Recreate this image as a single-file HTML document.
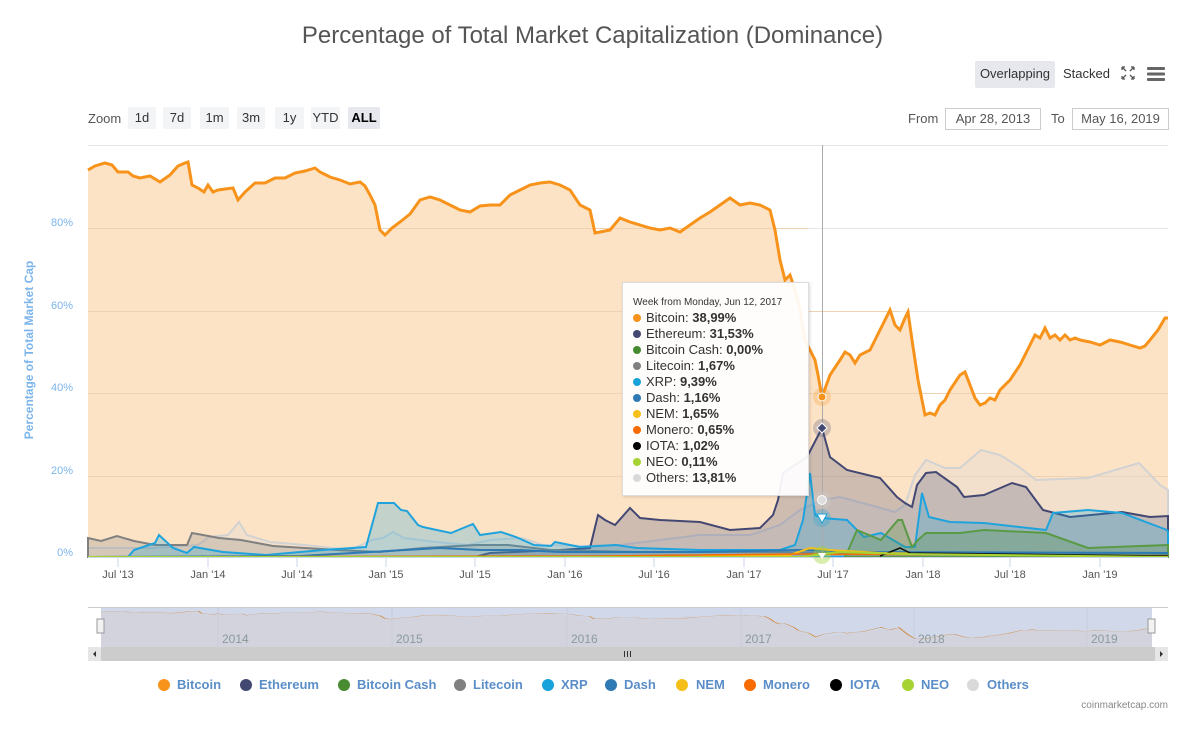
<!DOCTYPE html>
<html><head><meta charset="utf-8"><style>
body{margin:0;background:#fff;font-family:"Liberation Sans",sans-serif;}
.wrap{position:relative;width:1201px;height:736px;overflow:hidden;}
.t{position:absolute;white-space:nowrap;}
.btn{position:absolute;top:107px;height:22px;line-height:22px;background:#f3f4f6;font-size:13px;color:#333;text-align:center;border-radius:2px;}
.inp{position:absolute;top:108px;height:20px;line-height:20px;border:1px solid #ccc;font-size:13px;color:#555;text-align:center;}
.leg{position:absolute;top:677px;font-size:13px;font-weight:bold;color:#5b8ec8;}
.dot{position:absolute;top:679px;width:12px;height:12px;border-radius:50%;}
.tip{position:absolute;left:622px;top:282px;width:185px;height:212px;background:rgba(255,255,255,0.93);border:1px solid #ddd;box-shadow:1px 1px 3px rgba(0,0,0,0.15);font-size:13px;color:#333;}
.tip div{height:16px;line-height:16px;padding-left:10px;}
.tip i{display:inline-block;width:8px;height:8px;border-radius:50%;margin-right:5px;vertical-align:0;}
</style></head><body><div class="wrap">
<div class="t" style="left:0;width:1185px;text-align:center;top:22px;font-size:24px;color:#555;">Percentage of Total Market Capitalization (Dominance)</div>
<div class="t" style="left:975px;top:61px;width:80px;height:27px;line-height:25px;background:#e6e8ee;border-radius:2px;text-align:center;font-size:13px;color:#333;">Overlapping</div>
<div class="t" style="left:1063px;top:66px;font-size:13px;color:#333;">Stacked</div>
<svg class="t" style="left:1120px;top:65px" width="50" height="18"><g stroke="#555" stroke-width="1.3" fill="none"><path d="M2 2l4 4M2 2h3M2 2v3M14 2l-4 4M14 2h-3M14 2v3M2 14l4-4M2 14h3M2 14v-3M14 14l-4-4M14 14h-3M14 14v-3"/></g><g fill="#666"><rect x="27" y="2" width="18" height="3" rx="1"/><rect x="27" y="7.5" width="18" height="3" rx="1"/><rect x="27" y="13" width="18" height="3" rx="1"/></g></svg>
<div class="t" style="left:88px;top:111px;font-size:13px;color:#555;">Zoom</div>
<div class="btn" style="left:128px;width:28px">1d</div>
<div class="btn" style="left:163px;width:28px">7d</div>
<div class="btn" style="left:200px;width:29px">1m</div>
<div class="btn" style="left:237px;width:28px">3m</div>
<div class="btn" style="left:275px;width:29px">1y</div>
<div class="btn" style="left:311px;width:29px">YTD</div>
<div class="btn" style="left:348px;width:32px;background:#e6e8ee;font-weight:bold;color:#000">ALL</div>
<div class="t" style="left:908px;top:111px;font-size:13px;color:#555;">From</div>
<div class="inp" style="left:945px;width:94px">Apr 28, 2013</div>
<div class="t" style="left:1051px;top:111px;font-size:13px;color:#555;">To</div>
<div class="inp" style="left:1072px;width:95px">May 16, 2019</div>

<svg class="t" style="left:0;top:0" width="1201" height="736">
<defs>
<path id="btc" d="M88,170 L95,166 L105,163 L112,165 L118,172 L128,172 L133,176 L140,178 L150,176 L160,182 L170,175 L178,166 L185,163 L188,162 L192,185 L198,188 L204,192 L208,185 L213,192 L218,190 L225,189 L233,188 L238,200 L245,192 L255,183 L265,183 L275,178 L285,178 L295,173 L305,171 L315,168 L320,172 L330,177 L340,180 L350,184 L360,182 L365,186 L370,195 L375,205 L380,230 L385,235 L392,228 L400,222 L410,214 L420,200 L430,197 L440,200 L450,205 L460,210 L470,212 L480,206 L490,205 L500,205 L510,195 L520,190 L530,185 L540,183 L550,182 L560,185 L570,190 L580,205 L590,210 L595,233 L600,232 L610,230 L620,218 L630,222 L640,225 L650,228 L660,230 L670,228 L680,232 L690,225 L700,218 L710,212 L720,205 L730,198 L740,205 L750,203 L760,205 L770,210 L775,230 L780,260 L785,280 L790,275 L795,290 L800,310 L805,340 L810,350 L815,360 L818,375 L822,397 L830,375 L840,360 L845,352 L850,355 L855,363 L860,355 L870,350 L880,330 L885,320 L890,310 L895,325 L900,330 L905,318 L908,312 L912,340 L918,380 L925,415 L930,413 L935,415 L940,405 L945,400 L950,390 L960,375 L965,372 L970,385 L975,398 L980,405 L985,403 L990,398 L995,400 L1000,390 L1010,380 L1020,365 L1025,355 L1030,345 L1035,335 L1040,338 L1045,328 L1050,338 L1055,335 L1060,340 L1065,335 L1070,340 L1075,338 L1080,340 L1090,342 L1100,345 L1110,340 L1120,342 L1130,345 L1140,348 L1145,346 L1150,340 L1158,330 L1165,318 L1168,318"/>
</defs>
<g stroke="#e6e6e6" stroke-width="1"><line x1="88" y1="145.5" x2="1168" y2="145.5"/></g>
<path d="M88,557 L88,170 L95,166 L105,163 L112,165 L118,172 L128,172 L133,176 L140,178 L150,176 L160,182 L170,175 L178,166 L185,163 L188,162 L192,185 L198,188 L204,192 L208,185 L213,192 L218,190 L225,189 L233,188 L238,200 L245,192 L255,183 L265,183 L275,178 L285,178 L295,173 L305,171 L315,168 L320,172 L330,177 L340,180 L350,184 L360,182 L365,186 L370,195 L375,205 L380,230 L385,235 L392,228 L400,222 L410,214 L420,200 L430,197 L440,200 L450,205 L460,210 L470,212 L480,206 L490,205 L500,205 L510,195 L520,190 L530,185 L540,183 L550,182 L560,185 L570,190 L580,205 L590,210 L595,233 L600,232 L610,230 L620,218 L630,222 L640,225 L650,228 L660,230 L670,228 L680,232 L690,225 L700,218 L710,212 L720,205 L730,198 L740,205 L750,203 L760,205 L770,210 L775,230 L780,260 L785,280 L790,275 L795,290 L800,310 L805,340 L810,350 L815,360 L818,375 L822,397 L830,375 L840,360 L845,352 L850,355 L855,363 L860,355 L870,350 L880,330 L885,320 L890,310 L895,325 L900,330 L905,318 L908,312 L912,340 L918,380 L925,415 L930,413 L935,415 L940,405 L945,400 L950,390 L960,375 L965,372 L970,385 L975,398 L980,405 L985,403 L990,398 L995,400 L1000,390 L1010,380 L1020,365 L1025,355 L1030,345 L1035,335 L1040,338 L1045,328 L1050,338 L1055,335 L1060,340 L1065,335 L1070,340 L1075,338 L1080,340 L1090,342 L1100,345 L1110,340 L1120,342 L1130,345 L1140,348 L1145,346 L1150,340 L1158,330 L1165,318 L1168,318 L1168,557 Z" fill="#fde3c6"/>
<g stroke="#efd2b3" stroke-width="1"><line x1="88" y1="228.5" x2="1168" y2="228.5"/><line x1="88" y1="311.5" x2="1168" y2="311.5"/><line x1="88" y1="393.5" x2="1168" y2="393.5"/><line x1="88" y1="476.5" x2="1168" y2="476.5"/></g>
<g stroke="#e6e6e6"><line x1="808" y1="228.5" x2="1168" y2="228.5"/><line x1="900" y1="311.5" x2="1168" y2="311.5"/></g>
<!-- others -->
<path d="M88,557 L88,548 L155,548 L198,545 L209,537 L228,535 L239,522 L247,535 L270,542 L305,545 L350,550 L372,540 L383,538 L393,532 L404,538 L436,542 L468,545 L490,540 L522,538 L543,545 L585,546 L620,545 L660,540 L700,535 L750,535 L780,525 L800,510 L822,500 L840,497 L870,505 L895,512 L905,505 L915,475 L926,460 L945,468 L960,468 L981,450 L1000,455 L1019,467 L1036,480 L1088,478 L1139,463 L1160,485 L1168,490 L1168,557Z" fill="#d9d9d9" fill-opacity="0.3" stroke="#d2d2d2" stroke-width="2"/>
<!-- ethereum -->
<path d="M475,557 L490,553 L560,550 L590,548 L598,515 L605,520 L615,525 L630,508 L640,518 L660,520 L700,522 L730,530 L760,528 L773,515 L778,500 L783,473 L795,465 L807,457 L822,428 L830,457 L847,470 L880,478 L897,497 L905,503 L912,507 L917,485 L926,473 L936,472 L957,487 L964,497 L984,495 L1012,483 L1026,487 L1043,510 L1070,517 L1122,512 L1150,517 L1168,516 L1168,557Z" fill="#434873" fill-opacity="0.25" stroke="#434873" stroke-width="2"/>
<!-- litecoin -->
<path d="M88,557 L88,538 L101,541 L117,536 L134,541 L155,545 L187,545 L192,533 L203,535 L219,538 L241,540 L273,546 L305,548 L337,550 L380,552 L423,548 L476,545 L508,545 L551,550 L637,552 L700,552 L780,552 L820,553 L900,553 L1000,554 L1168,554 L1168,557Z" fill="#808080" fill-opacity="0.25" stroke="#808080" stroke-width="2"/>
<!-- xrp -->
<path d="M88,557 L128,557 L134,550 L155,543 L159,535 L173,548 L187,553 L194,547 L223,552 L266,555 L323,550 L366,547 L378,503 L394,503 L401,510 L407,511 L418,525 L423,527 L432,529 L451,533 L473,524 L480,535 L501,532 L516,537 L534,545 L551,546 L555,542 L580,547 L616,545 L637,548 L700,550 L780,550 L795,545 L803,520 L810,473 L815,515 L822,518 L847,520 L864,537 L881,533 L905,547 L915,547 L922,493 L929,517 L950,522 L984,523 L1046,530 L1053,513 L1088,510 L1122,513 L1167,530 L1168,532 L1168,557Z" fill="#17a2db" fill-opacity="0.25" stroke="#1fa3dc" stroke-width="2"/>
<!-- bch -->
<path d="M845,557 L847,553 L857,530 L864,533 L881,540 L898,520 L902,520 L912,547 L918,540 L926,533 L960,533 L984,530 L1046,533 L1088,548 L1168,545 L1168,557Z" fill="#478a2f" fill-opacity="0.25" stroke="#5a9a45" stroke-width="2"/>
<path d="M88,557 L300,556 L440,548 L480,550 L520,550 L560,552 L700,552 L800,550 L850,552 L1168,553" fill="none" stroke="#2e7ab5" stroke-width="2"/>
<path d="M700,556 L790,555 L810,548 L830,550 L880,553 L1000,555 L1168,556" fill="none" stroke="#f5bf17" stroke-width="2"/>
<path d="M88,557 L600,556 L800,554 L1168,556" fill="none" stroke="#f86b00" stroke-width="1.5"/>
<path d="M880,556 L900,548 L910,553 L1000,554 L1168,556" fill="none" stroke="#111" stroke-width="1.5"/>
<path d="M88,557 L800,557 L840,552 L900,554 L1168,557" fill="none" stroke="#a6d234" stroke-width="2"/>
<use href="#btc" fill="none" stroke="#f7931a" stroke-width="3"/>
<line x1="88" y1="557.5" x2="1168" y2="557.5" stroke="#ccd6eb"/>
<line x1="822.5" y1="145" x2="822.5" y2="557" stroke="#aaa"/>
<circle cx="822" cy="397" r="9" fill="#f7931a" fill-opacity="0.25"/><circle cx="822" cy="397" r="4" fill="#f7931a" stroke="#fff"/>
<circle cx="822" cy="428" r="9" fill="#434873" fill-opacity="0.25"/><path d="M822,423 L827,428 L822,433 L817,428Z" fill="#434873" stroke="#fff"/>
<circle cx="822" cy="500" r="9" fill="#ccc" fill-opacity="0.3"/><circle cx="822" cy="500" r="4.5" fill="#ddd" stroke="#fff"/>
<circle cx="822" cy="518" r="9" fill="#17a2db" fill-opacity="0.25"/><path d="M817,514 L827,514 L822,523Z" fill="#fff" stroke="#17a2db"/>
<circle cx="822" cy="555" r="9" fill="#a6d234" fill-opacity="0.4"/><path d="M818,553 L826,553 L822,559Z" fill="#fff"/>
<g stroke="#ccd6eb"><line x1="118" y1="557" x2="118" y2="567"/><line x1="208" y1="557" x2="208" y2="567"/><line x1="297" y1="557" x2="297" y2="567"/><line x1="386" y1="557" x2="386" y2="567"/><line x1="475" y1="557" x2="475" y2="567"/><line x1="565" y1="557" x2="565" y2="567"/><line x1="654" y1="557" x2="654" y2="567"/><line x1="744" y1="557" x2="744" y2="567"/><line x1="833" y1="557" x2="833" y2="567"/><line x1="923" y1="557" x2="923" y2="567"/><line x1="1010" y1="557" x2="1010" y2="567"/><line x1="1100" y1="557" x2="1100" y2="567"/></g>
<g font-family="Liberation Sans" font-size="11" fill="#555" text-anchor="middle">
<text x="118" y="578">Jul '13</text><text x="208" y="578">Jan '14</text><text x="297" y="578">Jul '14</text><text x="386" y="578">Jan '15</text><text x="475" y="578">Jul '15</text><text x="565" y="578">Jan '16</text><text x="654" y="578">Jul '16</text><text x="744" y="578">Jan '17</text><text x="833" y="578">Jul '17</text><text x="923" y="578">Jan '18</text><text x="1010" y="578">Jul '18</text><text x="1100" y="578">Jan '19</text>
</g>
<g font-family="Liberation Sans" font-size="11" fill="#7cb5ec" text-anchor="end">
<text x="73" y="226">80%</text><text x="73" y="309">60%</text><text x="73" y="391">40%</text><text x="73" y="474">20%</text><text x="73" y="556">0%</text>
</g>
<text transform="translate(33,350) rotate(-90)" text-anchor="middle" font-family="Liberation Sans" font-size="12" font-weight="bold" fill="#7cb5ec">Percentage of Total Market Cap</text>
<rect x="101" y="607" width="1051" height="40" fill="#d0d8ea"/>
<line x1="88" y1="607.5" x2="1168" y2="607.5" stroke="#ccc"/>
<g transform="translate(101,607) scale(0.9731,0.11) translate(-88,-125)">
<path d="M88,557 L88,170 L188,162 L192,185 L238,200 L315,168 L370,195 L385,235 L430,197 L470,212 L550,182 L595,233 L650,228 L730,198 L770,210 L822,397 L908,312 L925,415 L965,372 L985,403 L1045,328 L1140,348 L1168,318 L1168,557Z" fill="#d3d3de"/>
<use href="#btc" fill="none" stroke="#d0883a" stroke-width="1.6" vector-effect="non-scaling-stroke"/>
</g>
<g stroke="#c8ccd8"><line x1="218" y1="607" x2="218" y2="647"/><line x1="392" y1="607" x2="392" y2="647"/><line x1="567" y1="607" x2="567" y2="647"/><line x1="741" y1="607" x2="741" y2="647"/><line x1="914" y1="607" x2="914" y2="647"/><line x1="1087" y1="607" x2="1087" y2="647"/></g>
<g font-family="Liberation Sans" font-size="12" fill="#8a9a9a"><text x="222" y="643">2014</text><text x="396" y="643">2015</text><text x="571" y="643">2016</text><text x="745" y="643">2017</text><text x="918" y="643">2018</text><text x="1091" y="643">2019</text></g>
<rect x="97" y="619" width="7" height="14" fill="#f2f2f2" stroke="#999"/><rect x="1148" y="619" width="7" height="14" fill="#f2f2f2" stroke="#999"/>
<rect x="88" y="647" width="1080" height="14" fill="#cccccc"/>
<rect x="88" y="647" width="13" height="14" fill="#e6e6e6"/><rect x="1155" y="647" width="13" height="14" fill="#e6e6e6"/>
<path d="M96,651 L93,654 L96,657Z" fill="#333"/><path d="M1160,651 L1163,654 L1160,657Z" fill="#333"/>
<g stroke="#333"><line x1="624.5" y1="651" x2="624.5" y2="657"/><line x1="627.5" y1="651" x2="627.5" y2="657"/><line x1="630.5" y1="651" x2="630.5" y2="657"/></g>
</svg>

<div class="tip">
<div style="font-size:10px;padding-top:12px;height:15px;line-height:15px">Week from Monday, Jun 12, 2017</div>
<div><i style="background:#f7931a"></i>Bitcoin: <b>38,99%</b></div>
<div><i style="background:#434873"></i>Ethereum: <b>31,53%</b></div>
<div><i style="background:#478a2f"></i>Bitcoin Cash: <b>0,00%</b></div>
<div><i style="background:#808080"></i>Litecoin: <b>1,67%</b></div>
<div><i style="background:#17a2db"></i>XRP: <b>9,39%</b></div>
<div><i style="background:#2e7ab5"></i>Dash: <b>1,16%</b></div>
<div><i style="background:#f5bf17"></i>NEM: <b>1,65%</b></div>
<div><i style="background:#f86b00"></i>Monero: <b>0,65%</b></div>
<div><i style="background:#000"></i>IOTA: <b>1,02%</b></div>
<div><i style="background:#a6d234"></i>NEO: <b>0,11%</b></div>
<div><i style="background:#d9d9d9"></i>Others: <b>13,81%</b></div>
</div>

<div class="dot" style="left:158px;background:#f7931a"></div><div class="leg" style="left:177px">Bitcoin</div>
<div class="dot" style="left:240px;background:#434873"></div><div class="leg" style="left:259px">Ethereum</div>
<div class="dot" style="left:338px;background:#478a2f"></div><div class="leg" style="left:357px">Bitcoin Cash</div>
<div class="dot" style="left:454px;background:#808080"></div><div class="leg" style="left:473px">Litecoin</div>
<div class="dot" style="left:542px;background:#17a2db"></div><div class="leg" style="left:561px">XRP</div>
<div class="dot" style="left:605px;background:#2e7ab5"></div><div class="leg" style="left:624px">Dash</div>
<div class="dot" style="left:676px;background:#f5bf17"></div><div class="leg" style="left:696px">NEM</div>
<div class="dot" style="left:744px;background:#f86b00"></div><div class="leg" style="left:763px">Monero</div>
<div class="dot" style="left:830px;background:#000"></div><div class="leg" style="left:850px">IOTA</div>
<div class="dot" style="left:902px;background:#a6d234"></div><div class="leg" style="left:921px">NEO</div>
<div class="dot" style="left:967px;background:#d9d9d9"></div><div class="leg" style="left:987px">Others</div>
<div class="t" style="right:33px;top:700px;font-size:10px;color:#888">coinmarketcap.com</div>
</div></body></html>
